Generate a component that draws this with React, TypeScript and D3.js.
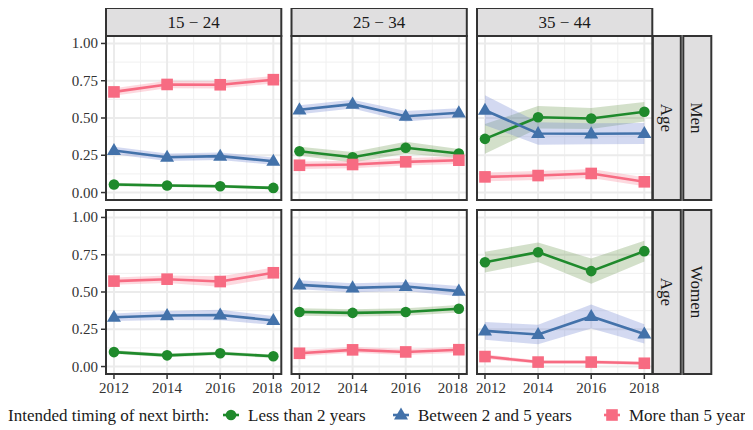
import React from "react";
import * as d3 from "d3";

// Survey waves and facet labels
const years = [2012, 2014, 2016, 2018];
const ageGroups = ["15 − 24", "25 − 34", "35 − 44"];
const sexes = ["Men", "Women"];
const yTicks = [0, 0.25, 0.5, 0.75, 1];
const seriesNames = ["Less than 2 years", "Between 2 and 5 years", "More than 5 years"];

// Shares by age group (rows: 15-24, 25-34, 35-44); CI = half-width of the ribbon
const menLess = [
  [0.054, 0.047, 0.042, 0.031],
  [0.277, 0.237, 0.3, 0.262],
  [0.36, 0.505, 0.497, 0.542],
];
const menLessCI = [
  [0.012, 0.01, 0.01, 0.01],
  [0.03, 0.035, 0.04, 0.03],
  [0.1, 0.075, 0.07, 0.065],
];
const menBetween = [
  [0.282, 0.237, 0.244, 0.21],
  [0.555, 0.593, 0.512, 0.535],
  [0.552, 0.396, 0.394, 0.396],
];
const menBetweenCI = [
  [0.025, 0.025, 0.025, 0.025],
  [0.03, 0.03, 0.035, 0.03],
  [0.1, 0.075, 0.07, 0.07],
];
const menMore = [
  [0.675, 0.725, 0.723, 0.757],
  [0.183, 0.188, 0.206, 0.217],
  [0.105, 0.114, 0.128, 0.072],
];
const menMoreCI = [
  [0.025, 0.025, 0.025, 0.025],
  [0.025, 0.025, 0.025, 0.025],
  [0.03, 0.03, 0.03, 0.03],
];
const womenLess = [
  [0.097, 0.075, 0.089, 0.069],
  [0.366, 0.36, 0.366, 0.388],
  [0.7, 0.767, 0.64, 0.774],
];
const womenLessCI = [
  [0.012, 0.012, 0.012, 0.012],
  [0.025, 0.025, 0.025, 0.025],
  [0.07, 0.065, 0.085, 0.07],
];
const womenBetween = [
  [0.331, 0.342, 0.346, 0.309],
  [0.548, 0.528, 0.537, 0.506],
  [0.239, 0.215, 0.336, 0.219],
];
const womenBetweenCI = [
  [0.025, 0.03, 0.035, 0.03],
  [0.03, 0.03, 0.03, 0.035],
  [0.06, 0.065, 0.08, 0.065],
];
const womenMore = [
  [0.573, 0.586, 0.57, 0.629],
  [0.089, 0.112, 0.098, 0.113],
  [0.067, 0.03, 0.03, 0.022],
];
const womenMoreCI = [
  [0.025, 0.025, 0.035, 0.035],
  [0.02, 0.02, 0.02, 0.02],
  [0.015, 0.012, 0.012, 0.012],
];

const lineColors = ["#1f8a2c", "#4372aa", "#f76b82"];
const ribbonColors = ["#5d8c3c", "#6d82cf", "#f98096"];
const ribbonOpacity = [0.27, 0.3, 0.3];

const W = 753;
const H = 430;
const BODY_MARGIN = 8;
const serifStyle = { fontFamily: '"Liberation Serif"' };

const panelLeft = 106;
const panelW = 175.3;
const panelGapX = 10.2;
const stripTop = 8;
const stripH = 28;
const panelTop = 36;
const panelH = 164;
const panelGapY = 10;

function panelData(sexIdx: number, ageIdx: number) {
  const vals = sexIdx === 0 ? [menLess, menBetween, menMore] : [womenLess, womenBetween, womenMore];
  const cis = sexIdx === 0 ? [menLessCI, menBetweenCI, menMoreCI] : [womenLessCI, womenBetweenCI, womenMoreCI];
  return vals.map((v, s) =>
    years.map((yr, i) => ({ year: yr, value: v[ageIdx][i], ci: cis[s][ageIdx][i] }))
  );
}

function Marker({ kind, x, y, color }: { kind: number; x: number; y: number; color: string }) {
  if (kind === 0) return <circle cx={x} cy={y} r={5.3} fill={color} />;
  if (kind === 1) {
    const s = 14;
    const h = s * 0.866;
    return (
      <path
        d={`M${x},${y - h * 0.62} L${x + s / 2},${y + h * 0.38} L${x - s / 2},${y + h * 0.38} Z`}
        fill={color}
      />
    );
  }
  return <rect x={x - 5.8} y={y - 5.8} width={11.6} height={11.6} fill={color} />;
}

function Panel({ sexIdx, ageIdx }: { sexIdx: number; ageIdx: number }) {
  const x0 = panelLeft + ageIdx * (panelW + panelGapX);
  const y0 = panelTop + sexIdx * (panelH + panelGapY);
  const x = d3.scaleLinear().domain([2011.7, 2018.3]).range([x0, x0 + panelW]);
  const y = d3.scaleLinear().domain([-0.05, 1.05]).range([y0 + panelH, y0]);
  const series = panelData(sexIdx, ageIdx);
  const area = d3
    .area<{ year: number; value: number; ci: number }>()
    .x((d) => x(d.year))
    .y0((d) => y(d.value - d.ci))
    .y1((d) => y(d.value + d.ci));
  const line = d3
    .line<{ year: number; value: number; ci: number }>()
    .x((d) => x(d.year))
    .y((d) => y(d.value));
  const minorY = [0.125, 0.375, 0.625, 0.875];
  const minorX = [2013, 2015, 2017];
  const clipId = `clip-${sexIdx}-${ageIdx}`;
  // push neighbouring edge labels apart between adjacent panels
  const labelNudge = (i: number) => {
    if (i === 0 && ageIdx > 0) return 6;
    if (i === years.length - 1 && ageIdx < ageGroups.length - 1) return -6;
    return 0;
  };
  return (
    <g>
      <defs>
        <clipPath id={clipId}>
          <rect x={x0} y={y0} width={panelW} height={panelH} />
        </clipPath>
      </defs>
      <rect x={x0} y={y0} width={panelW} height={panelH} fill="#fff" />
      <g clipPath={`url(#${clipId})`}>
        {minorY.map((v) => (
          <line key={`my${v}`} x1={x0} x2={x0 + panelW} y1={y(v)} y2={y(v)} stroke="#f0f0f0" strokeWidth={1} />
        ))}
        {minorX.map((v) => (
          <line key={`mx${v}`} y1={y0} y2={y0 + panelH} x1={x(v)} x2={x(v)} stroke="#f0f0f0" strokeWidth={1} />
        ))}
        {yTicks.map((v) => (
          <line key={`gy${v}`} x1={x0} x2={x0 + panelW} y1={y(v)} y2={y(v)} stroke="#ebebeb" strokeWidth={2} />
        ))}
        {years.map((v) => (
          <line key={`gx${v}`} y1={y0} y2={y0 + panelH} x1={x(v)} x2={x(v)} stroke="#ebebeb" strokeWidth={2} />
        ))}
        {series.map((s, i) => (
          <path key={`r${i}`} d={area(s) || ""} fill={ribbonColors[i]} fillOpacity={ribbonOpacity[i]} />
        ))}
        {series.map((s, i) => (
          <path key={`l${i}`} d={line(s) || ""} fill="none" stroke={lineColors[i]} strokeWidth={2.6} />
        ))}
        {series.map((s, i) =>
          s.map((d) => <Marker key={`m${i}-${d.year}`} kind={i} x={x(d.year)} y={y(d.value)} color={lineColors[i]} />)
        )}
      </g>
      <rect x={x0} y={y0} width={panelW} height={panelH} fill="none" stroke="#333" strokeWidth={2} />
      {ageIdx === 0 &&
        yTicks.map((v) => (
          <g key={`yt${v}`}>
            <line x1={x0 - 5} x2={x0} y1={y(v)} y2={y(v)} stroke="#333" strokeWidth={1.5} />
            <text x={x0 - 8} y={y(v) + 5} textAnchor="end" fontSize={15} fill="#333" style={serifStyle}>
              {d3.format(".2f")(v)}
            </text>
          </g>
        ))}
      {sexIdx === 1 &&
        years.map((v, i) => (
          <g key={`xt${v}`}>
            <line x1={x(v)} x2={x(v)} y1={y0 + panelH} y2={y0 + panelH + 5} stroke="#333" strokeWidth={1.5} />
            <text x={x(v) + labelNudge(i)} y={y0 + panelH + 19} textAnchor="middle" fontSize={15} fill="#333" style={serifStyle}>
              {v}
            </text>
          </g>
        ))}
    </g>
  );
}

export default function App() {
  const rightEdge = panelLeft + 3 * panelW + 2 * panelGapX;
  const legendY = 415;
  return (
    <svg width={W - BODY_MARGIN} height={H - BODY_MARGIN}>
      <g transform={`translate(${-BODY_MARGIN},${-BODY_MARGIN})`}>
        <rect width={W} height={H} fill="#fff" />
        {ageGroups.map((label, a) => {
          const x0 = panelLeft + a * (panelW + panelGapX);
          return (
            <g key={label}>
              <rect x={x0} y={stripTop} width={panelW} height={stripH} fill="#e0dfe0" stroke="#333" strokeWidth={2} />
              <text x={x0 + panelW / 2} y={stripTop + stripH / 2 + 6} textAnchor="middle" fontSize={17} fill="#1a1a1a" style={serifStyle}>
                {label}
              </text>
            </g>
          );
        })}
        {sexes.map((sex, s) => {
          const y0 = panelTop + s * (panelH + panelGapY);
          const ax = rightEdge + 0.5;
          const sx = rightEdge + 31;
          const sw = 28;
          return (
            <g key={sex}>
              <rect x={ax} y={y0} width={sw} height={panelH} fill="#e0dfe0" stroke="#333" strokeWidth={2} />
              <text
                transform={`translate(${ax + sw / 2 - 6},${y0 + panelH / 2}) rotate(90)`}
                textAnchor="middle"
                fontSize={17}
                fill="#1a1a1a"
                style={serifStyle}
              >
                Age
              </text>
              <rect x={sx} y={y0} width={sw} height={panelH} fill="#e0dfe0" stroke="#333" strokeWidth={2} />
              <text
                transform={`translate(${sx + sw / 2 - 6},${y0 + panelH / 2}) rotate(90)`}
                textAnchor="middle"
                fontSize={17}
                fill="#1a1a1a"
                style={serifStyle}
              >
                {sex}
              </text>
            </g>
          );
        })}
        {sexes.map((_, s) => ageGroups.map((_, a) => <Panel key={`${s}-${a}`} sexIdx={s} ageIdx={a} />))}
        <g>
          <text x={8} y={legendY + 6} fontSize={17} fill="#1a1a1a" style={serifStyle}>
            Intended timing of next birth:
          </text>
          {seriesNames.map((name, i) => {
            const kx = [231, 401, 612][i];
            return (
              <g key={name}>
                <line x1={kx - 8} x2={kx + 8} y1={legendY} y2={legendY} stroke={lineColors[i]} strokeWidth={2.6} />
                <Marker kind={i} x={kx} y={legendY} color={lineColors[i]} />
                <text x={kx + 17} y={legendY + 6} fontSize={17} fill="#1a1a1a" style={serifStyle}>
                  {name}
                </text>
              </g>
            );
          })}
        </g>
      </g>
    </svg>
  );
}
